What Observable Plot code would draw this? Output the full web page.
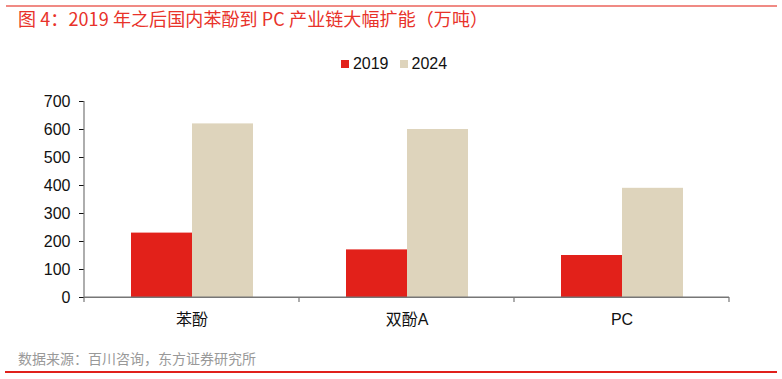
<!DOCTYPE html>
<html><head><meta charset="utf-8">
<script src="https://cdn.jsdelivr.net/npm/d3@7"></script>
<script src="https://cdn.jsdelivr.net/npm/@observablehq/plot@0.6"></script>
<style>
html,body{margin:0;padding:0;background:#fff;}
#wrap{position:relative;width:782px;height:379px;overflow:hidden;font-family:"Liberation Sans","Noto Sans CJK SC",sans-serif;}
#topline{position:absolute;left:6px;top:5px;width:771px;height:2px;background:#f08a84;}
#title{position:absolute;left:18px;top:5px;font-family:"Noto Sans CJK SC",sans-serif;font-size:18px;color:#e8322a;white-space:nowrap;letter-spacing:0.1px;}
#legend{position:absolute;left:0;width:782px;top:55px;display:flex;justify-content:center;gap:11px;font-size:16px;color:#111;padding-left:6px;box-sizing:border-box;}
#legend span.item{display:flex;align-items:center;}
#legend span.sw{display:inline-block;width:8px;height:8px;margin-right:4px;}
#chart{position:absolute;left:0;top:80px;}
#caption{position:absolute;left:18px;top:348px;font-family:"Noto Sans CJK SC",sans-serif;font-size:14px;color:#999;white-space:nowrap;}
#botline{position:absolute;left:5px;top:371px;width:772px;height:1.5px;background:#e0201b;}
</style></head>
<body><div id="wrap">
<div id="topline"></div>
<div id="title">图 4：2019 年之后国内苯酚到 PC 产业链大幅扩能（万吨）</div>
<div id="legend"></div>
<div id="chart"></div>
<div id="caption">数据来源：百川咨询，东方证券研究所</div>
<div id="botline"></div>
</div>
<script>
const categories = ["苯酚", "双酚A", "PC"];
const years = ["2019", "2024"];
const values2019 = [230, 170, 150];
const values2024 = [620, 600, 390];
const yTicks = [0, 100, 200, 300, 400, 500, 600, 700];
const colors = ["#e2211a", "#ded4bc"];

const data = [];
categories.forEach((c, i) => {
  data.push({category: c, year: years[0], value: values2019[i]});
  data.push({category: c, year: years[1], value: values2024[i]});
});

const leg = document.getElementById("legend");
years.forEach((y, i) => {
  const s = document.createElement("span");
  s.className = "item";
  s.innerHTML = `<span class="sw" style="background:${colors[i]}"></span>${y}`;
  leg.appendChild(s);
});

const plot = Plot.plot({
  width: 782,
  height: 257,
  marginLeft: 84,
  marginRight: 53,
  marginTop: 21,
  marginBottom: 40,
  style: {fontFamily: "Liberation Sans, Noto Sans CJK SC, sans-serif", fontSize: "16px", color: "#111", background: "transparent"},
  fx: {domain: categories, padding: 0, label: null, axis: "bottom", tickSize: 0, tickPadding: 16},
  x: {domain: years, paddingInner: 0, paddingOuter: 0.762, axis: null},
  y: {domain: [0, 700], ticks: yTicks, label: null, tickSize: 5, tickPadding: 9},
  color: {domain: years, range: colors},
  marks: [
    Plot.barY(data, {fx: "category", x: "year", y: "value", fill: "year", inset: 0}),
    Plot.ruleY([0], {stroke: "#777", strokeWidth: 1.2}),
    Plot.ruleX([0], {stroke: "#777", facet: "exclude"})
  ]
});
document.getElementById("chart").appendChild(plot);

// y axis line and boundary ticks on x axis, using the plot's scales
const svg = d3.select(plot);
const fx = plot.scale("fx");
const ys = plot.scale("y");
const y0 = ys.apply(0), y700 = ys.apply(700);
const fxs = d3.scaleBand().domain(categories).range(fx.range).paddingInner(0).paddingOuter(0);
const bounds = categories.map(c => fxs(c)).concat([fxs(categories[categories.length-1]) + fxs.bandwidth()]);
const g = svg.append("g").attr("stroke", "#777").attr("stroke-width", 1.2);
g.append("line").attr("x1", bounds[0]).attr("x2", bounds[0]).attr("y1", y700).attr("y2", y0);
g.append("line").attr("x1", bounds[0]).attr("x2", bounds[bounds.length-1]).attr("y1", y0).attr("y2", y0);
bounds.forEach(b => {
  g.append("line").attr("x1", b).attr("x2", b).attr("y1", y0).attr("y2", y0 + 5);
});
svg.selectAll("[aria-label='y-axis tick']").attr("stroke", "#777");
</script>
</body></html>
